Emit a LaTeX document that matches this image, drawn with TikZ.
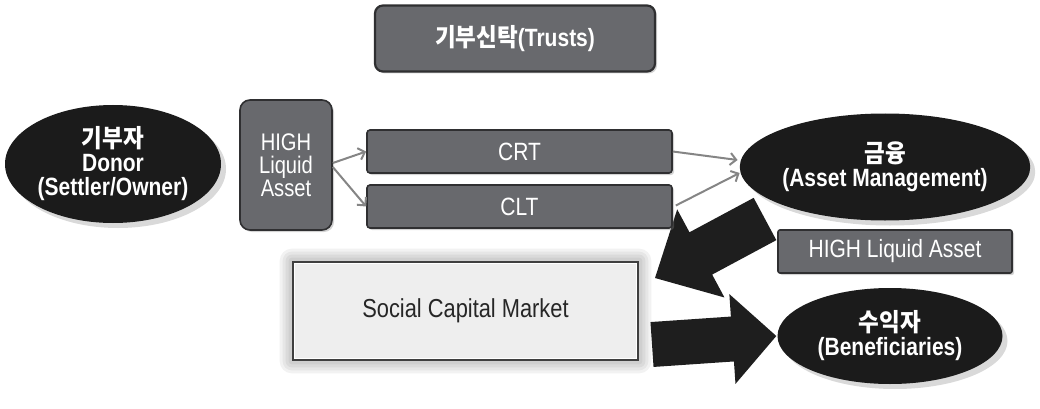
\documentclass[tikz,border=0pt]{standalone}
\usepackage{fontspec}
\setmainfont{Liberation Sans}[FakeStretch=0.84]
\newfontfamily\kr{Noto Sans CJK KR}[FakeStretch=0.9]
\usetikzlibrary{shapes.geometric,shadows,calc,arrows.meta,backgrounds}

\definecolor{boxgray}{HTML}{68696D}
\definecolor{boxedge}{HTML}{2F2F31}
\definecolor{ovalfill}{HTML}{1B1B1B}
\definecolor{thinline}{HTML}{858585}
\definecolor{marketfill}{HTML}{EEEEEE}
\definecolor{marketedge}{HTML}{3F3F3F}
\definecolor{fatfill}{HTML}{1E1E1E}

% fat block arrow: tail, tip, half shaft width, half head width, head length
\newcommand\blockarrowpath[5]{%
  \coordinate (ba-base) at ($(#2)!#5!(#1)$);
  \fill[fatarrow] ($(#1)!#3!90:(#2)$) -- ($(ba-base)!#3!90:(#2)$)
    -- ($(ba-base)!#4!90:(#2)$) -- (#2) -- ($(ba-base)!#4!-90:(#2)$)
    -- ($(ba-base)!#3!-90:(#2)$) -- ($(#1)!#3!-90:(#2)$) -- cycle;}

\tikzset{
  graybox/.style={rectangle, fill=boxgray, draw=boxedge, line width=1.6pt,
    text=white, font=\fontsize{25}{22}\selectfont, inner sep=0pt,
    drop shadow={shadow xshift=2pt, shadow yshift=-2pt, opacity=0.35}},
  oval/.style={ellipse, fill=ovalfill, text=white, align=center, inner sep=0pt,
    font=\bfseries\fontsize{25}{24}\selectfont,
    drop shadow={shadow xshift=5pt, shadow yshift=-5pt, opacity=0.3}},
  market/.style={rectangle, fill=marketfill, draw=marketedge, line width=2.6pt,
    text=black!85, font=\fontsize{26}{26}\selectfont, inner sep=0pt},
  thinarrow/.style={draw=thinline, line width=2pt,
    -{Straight Barb[length=6pt,width=12pt,line width=2pt]}},
  fatarrow/.style={fill=fatfill},
}

\begin{document}
\begin{tikzpicture}[x=1pt,y=-1pt]
\useasboundingbox (0,0) rectangle (1040,409);

% title box
\node[graybox, rounded corners=8pt, line width=2.2pt, minimum width=280pt,
  minimum height=66pt, font=\bfseries\fontsize{25}{24}\selectfont]
  (trusts) at (515,38.5) {{\kr 기부신탁}(Trusts)};

% donor and assets
\node[oval, minimum width=216pt, minimum height=118pt] (donor) at (113,164)
  {{\kr 기부자}\\Donor\\(Settler/Owner)};
\node[graybox, rounded corners=10pt, minimum width=92pt, minimum height=130pt,
  align=center, font=\fontsize{24}{23}\selectfont] (vhigh) at (286,165)
  {HIGH\\Liquid\\Asset};

% trust vehicles
\node[graybox, rounded corners=3pt, minimum width=305pt, minimum height=43pt]
  (crt) at (519.5,151.5) {CRT};
\node[graybox, rounded corners=3pt, minimum width=305pt, minimum height=43pt]
  (clt) at (519.5,206.5) {CLT};

% asset management and beneficiaries
\node[oval, minimum width=270pt, minimum height=107pt] (asset) at (885,167)
  {{\kr 금융}\\(Asset Management)};
\node[graybox, rounded corners=2pt, minimum width=234pt, minimum height=43pt]
  (hla) at (895,251.5) {HIGH Liquid Asset};
\node[oval, minimum width=225pt, minimum height=96pt] (benef) at (890,336)
  {{\kr 수익자}\\(Beneficiaries)};

% social capital market
\node[market, minimum width=345pt, minimum height=98pt] (social) at (465.5,311)
  {Social Capital Market};
\draw[white, line width=1.2pt] ([shift={(3pt,-3pt)}]social.north west)
  rectangle ([shift={(-3pt,3pt)}]social.south east);

\begin{pgfonlayer}{background}
  % soft glow around the market box
  \foreach \g in {12,9,6,3}
    \fill[black, opacity=0.05, rounded corners=\g pt]
      ([shift={(-\g pt,\g pt)}]social.north west)
      rectangle ([shift={(\g pt,-\g pt)}]social.south east);
  % block arrows
  \coordinate (downtail) at (765,219);
  \coordinate (downtip) at (655,278);
  \blockarrowpath{downtail}{downtip}{24pt}{50pt}{52pt}
  \coordinate (righttail) at (652,344.5);
  \coordinate (righttip) at ([xshift=-1pt]benef.west);
  \blockarrowpath{righttail}{righttip}{22.5pt}{45pt}{44pt}
\end{pgfonlayer}

% thin connectors
\draw[thinarrow] ([yshift=2pt]vhigh.east) -- (crt.west);
\draw[thinarrow] ([yshift=-2pt]vhigh.east) -- (clt.west);
\draw[thinarrow] (crt.east) -- ([yshift=7pt,xshift=-2pt]asset.west);
\draw[thinarrow] ([xshift=3pt,yshift=1pt]clt.east) -- ([yshift=-6pt]asset.west);
\end{tikzpicture}
\end{document}
